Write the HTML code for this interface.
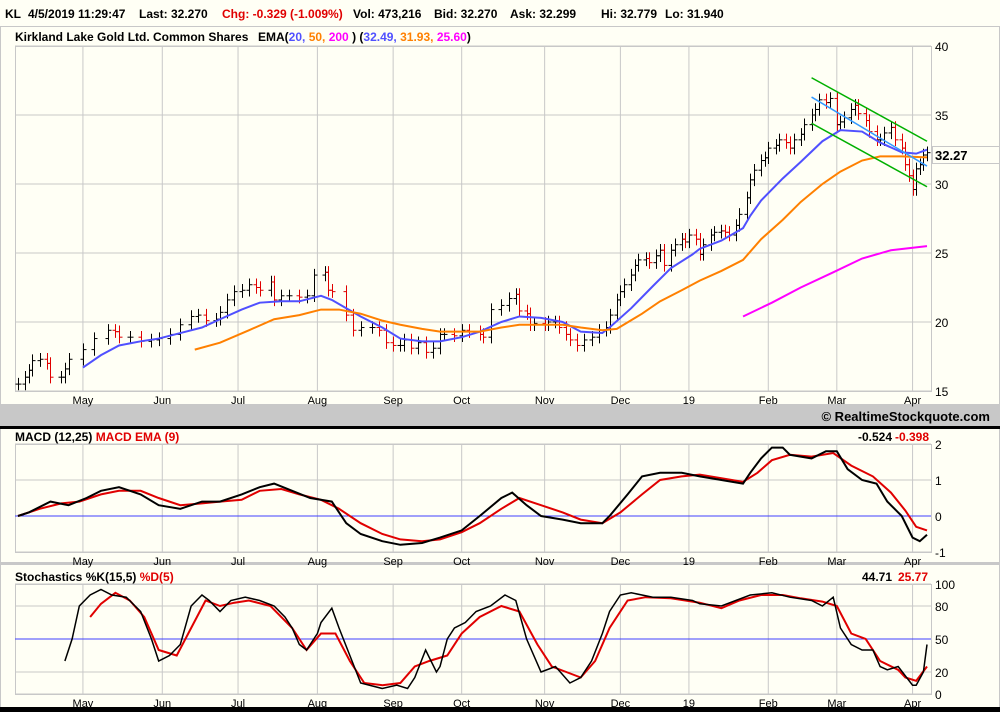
<!DOCTYPE html>
<html><head><meta charset="utf-8"><style>
html,body{margin:0;padding:0;background:#fffff5;}
body{width:1000px;height:712px;overflow:hidden;position:relative;font-family:"Liberation Sans",sans-serif;}
svg{position:absolute;left:0;top:0;}
text{font-family:"Liberation Sans",sans-serif;}
</style></head><body>
<svg id="c" width="1000" height="712"></svg>
<script>
// ---- data ----
const closeDays=[0,2,3,4,6,8,9,12,13,14,18,21,25,27,28,31,34,37,39,42,45,48,50,52,55,56,58,60,62,64,66,67,70,71,73,75,78,80,82,85,86,87,91,93,95,98,100,102,104,106,107,109,111,113,115,117,118,121,123,125,128,129,131,134,136,138,139,141,142,143,146,147,149,150,152,153,155,157,159,161,163,164,166,167,168,170,171,172,174,175,177,178,179,181,182,184,185,186,188,189,190,192,193,195,196,197,199,200,202,203,204,206,207,208,210,211,213,214,215,217,218,220,221,222,224,225,227,228,229,231,232,233,235,236,238,239,240,242,243,245,246,247,248,249,250,251,252];
const closes=[15.5,16.0,16.5,17.2,17.3,17.0,16.0,16.0,16.6,17.3,18.0,18.8,19.4,19.3,18.9,18.9,18.6,18.7,18.8,19.1,19.8,20.4,20.5,20.1,20.2,20.7,21.6,22.2,22.3,22.7,22.5,22.3,22.9,21.6,21.9,21.9,21.8,21.9,23.4,23.6,22.3,22.2,20.5,19.4,19.6,19.6,19.4,18.5,18.3,18.3,18.7,18.1,18.5,17.8,18.1,19.1,19.1,19.0,19.4,19.3,19.1,18.9,20.9,21.2,21.7,22.0,20.8,20.6,19.8,19.9,19.8,20.0,20.0,19.6,19.1,18.7,18.3,18.7,18.9,19.4,19.6,20.5,21.6,22.2,22.7,23.4,24.1,24.5,24.6,24.3,24.8,25.2,24.1,25.2,25.6,26.0,25.8,26.3,26.0,24.9,25.6,26.3,26.5,26.6,26.5,26.3,27.0,27.8,29.0,30.3,31.0,31.7,31.9,32.6,32.8,33.2,33.0,32.6,33.2,33.6,34.3,35.0,35.4,36.1,35.9,36.2,34.3,34.5,34.8,35.4,35.7,35.1,34.6,33.8,33.2,33.2,33.7,34.1,33.2,32.6,31.4,30.6,29.6,31.1,31.4,32.1,32.27];
const ema20Days=[18,23,28,34,39,45,51,56,62,67,73,78,84,87,91,95,101,106,112,117,123,128,134,139,145,151,156,162,164,170,176,181,187,189,195,201,203,206,212,217,223,228,234,239,245,249,252];
const ema20Vals=[16.7,17.6,18.3,18.6,18.8,19.2,19.6,20.2,20.9,21.4,21.5,21.5,21.9,21.6,21.0,20.4,19.6,18.8,18.6,18.6,18.9,19.3,20.0,20.4,20.3,20.0,19.3,19.2,19.6,21.0,22.6,23.9,24.9,25.3,25.9,26.8,27.7,28.8,30.4,31.6,33.1,33.9,33.8,33.0,32.3,32.2,32.49];
const ema50Days=[49,56,64,71,78,84,89,95,101,106,112,117,123,128,134,139,145,151,156,162,166,173,178,184,189,195,201,206,212,217,223,228,234,239,245,252];
const ema50Vals=[18.0,18.5,19.4,20.2,20.5,20.9,20.9,20.6,20.1,19.8,19.5,19.3,19.3,19.3,19.6,19.8,19.8,19.8,19.6,19.4,19.5,20.6,21.5,22.3,23.0,23.7,24.5,26.0,27.4,28.7,30.0,30.9,31.7,32.0,32.0,31.93];
const ema200Days=[201,209,217,226,234,242,252];
const ema200Vals=[20.4,21.4,22.5,23.6,24.6,25.2,25.5];
const channelUpper=[37.7,33.1], channelMid=[36.3,31.3], channelLower=[34.4,29.8];
const channelDays=[220,252];
const macdDays=[0,3,9,14,19,23,28,34,39,45,51,56,62,67,71,76,81,87,91,95,101,106,112,117,123,128,134,137,141,145,151,156,162,164,169,173,178,184,189,195,201,203,206,209,212,214,220,224,227,230,234,238,241,244,245,248,250,252];
const macdVals=[0,0.1,0.4,0.3,0.5,0.7,0.8,0.6,0.3,0.2,0.4,0.4,0.6,0.8,0.9,0.7,0.5,0.4,-0.2,-0.5,-0.7,-0.8,-0.75,-0.6,-0.4,0.0,0.5,0.65,0.3,0.0,-0.1,-0.2,-0.2,0.0,0.6,1.1,1.2,1.2,1.1,1.0,0.9,1.2,1.6,1.9,1.9,1.7,1.6,1.8,1.8,1.3,1.0,0.9,0.4,0.1,0.0,-0.6,-0.7,-0.52];
const sigDays=[0,6,12,17,23,28,34,39,45,51,56,62,67,73,78,84,89,95,101,106,112,117,123,128,134,139,145,151,156,162,167,173,178,184,189,195,201,205,209,214,220,226,231,237,242,246,249,252];
const sigVals=[0,0.2,0.35,0.4,0.6,0.7,0.7,0.5,0.3,0.35,0.4,0.45,0.7,0.75,0.6,0.45,0.2,-0.2,-0.5,-0.65,-0.7,-0.65,-0.45,-0.2,0.2,0.5,0.3,0.1,-0.1,-0.2,0.1,0.6,1.0,1.1,1.15,1.05,0.95,1.2,1.55,1.7,1.65,1.75,1.4,1.1,0.65,0.15,-0.3,-0.4];
const kDays=[13,15,17,20,23,26,30,34,37,39,42,45,48,51,53,56,59,63,67,71,74,76,78,80,83,84,87,89,92,95,101,105,108,110,113,116,117,119,121,124,127,131,135,138,141,145,149,153,156,159,162,164,167,170,176,181,187,189,195,199,203,209,214,220,223,226,228,231,234,237,239,241,244,248,249,251,252];
const kVals=[30,50,80,90,95,90,88,75,50,30,35,45,80,90,85,75,85,88,85,80,70,60,45,40,55,65,78,60,35,10,5,8,5,15,40,20,25,50,60,65,75,80,90,85,50,20,25,10,15,30,55,75,90,92,88,88,85,82,80,85,90,92,88,85,80,88,60,45,40,40,25,22,25,8,8,20,45];
const dDays=[20,23,27,31,35,39,44,48,52,56,60,64,70,76,80,84,88,92,96,101,106,110,114,119,123,128,134,139,144,148,152,156,160,164,169,174,181,189,195,200,206,212,217,223,227,231,235,239,244,246,249,252];
const dVals=[70,82,92,85,70,40,35,60,85,80,83,85,80,60,40,55,55,30,10,8,10,25,30,35,55,70,80,75,45,25,20,15,30,60,85,88,87,83,78,85,90,90,87,84,80,55,50,30,22,15,12,25];
const priceTicks=[40,35,30,25,20,15];
const macdTicks=[2,1,0,-1];
const stochTicks=[100,80,50,20,0];
const months=["May","Jun","Jul","Aug","Sep","Oct","Nov","Dec","19","Feb","Mar","Apr"];
const monthDays=[18,40,61,83,104,123,146,167,186,208,227,248];

// ---- scales ----
const X0=18,X1=927,L=15,R=931;
const xd=d=>X0+d*(X1-X0)/252;
const yP=v=>391-(v-15)*13.8;
const yM=v=>516-v*36;
const yS=v=>694-v*1.1;

const svg=document.getElementById('c');
const NS='http://www.w3.org/2000/svg';
function mk(tag,attrs,parent){const e=document.createElementNS(NS,tag);for(const k in attrs)e.setAttribute(k,attrs[k]);(parent||svg).appendChild(e);return e;}
function txt(s,x,y,opts,parent){const t=mk('text',Object.assign({x:x,y:y,'font-size':12,fill:'#000'},opts),parent);t.textContent=s;return t;}
function poly(days,vals,xs,ys,color,w,name){const p=mk('polyline',{points:days.map((d,i)=>xs(d)+','+ys(vals[i])).join(' '),fill:'none',stroke:color,'stroke-width':w});return p;}

// frames
mk('rect',{x:0,y:0,width:1000,height:712,fill:'#fffff5'});
mk('rect',{x:0.5,y:26.5,width:999,height:378,fill:'none',stroke:'#c8c8c8'});
const band=mk('rect',{x:0,y:405,width:1000,height:21,fill:'#c8c8c8'});

mk('rect',{x:0,y:426,width:1000,height:3,fill:'#000'});
mk('rect',{x:0,y:562,width:1000,height:3,fill:'#c8c8c8'});
mk('rect',{x:0,y:707,width:1000,height:5,fill:'#000'});
mk('line',{x1:999.5,y1:429,x2:999.5,y2:707,stroke:'#c8c8c8'});
mk('line',{x1:0.5,y1:429,x2:0.5,y2:707,stroke:'#c8c8c8'});

// header
const hdr=[["KL",5,'#000'],["4/5/2019 11:29:47",28,'#000'],["Last: 32.270",139,'#000'],["Chg: -0.329 (-1.009%)",222,'#e00000'],["Vol: 473,216",353,'#000'],["Bid: 32.270",434,'#000'],["Ask: 32.299",510,'#000'],["Hi: 32.779",601,'#000'],["Lo: 31.940",665,'#000']];
hdr.forEach(h=>{const t=txt(h[0],h[1],18,{'font-weight':'bold',fill:h[2]});});
const title=txt('Kirkland Lake Gold Ltd. Common Shares',15,41,{'font-weight':'bold'});

const leg=mk('text',{x:258,y:41,'font-size':12,'font-weight':'bold'});

[["EMA(",'#000'],["20, ",'#5050ff'],["50, ",'#ff8000'],["200",'#ff00ff'],[" )   (",'#000'],["32.49, ",'#5050ff'],["31.93, ",'#ff8000'],["25.60",'#ff00ff'],[")",'#000']].forEach(s=>{const ts=mk('tspan',{fill:s[1]},leg);ts.textContent=s[0];});

// grids
function grid(ticks,ys,top,bot,name){
  mk('rect',{x:L+0.5,y:top+0.5,width:R-L,height:bot-top,fill:'none',stroke:'#c8c8c8'});
  ticks.forEach(t=>{const y=ys(t);mk('line',{x1:L,x2:R,y1:y,y2:y,stroke:'#c8c8c8'});const lab=txt(String(t),935,y+5,{'font-size':12});});
  monthDays.forEach((d,i)=>{const x=xd(d);mk('line',{x1:x,x2:x,y1:top,y2:bot,stroke:'#c8c8c8'});const lab=txt(months[i],x,bot+13,{'font-size':11,'text-anchor':'middle'});});
}
grid(priceTicks,yP,46,391,'price-axis');
grid(macdTicks,yM,444,552,'macd-axis');
grid(stochTicks,yS,584,694,'stoch-axis');

// price bars
closes.forEach((c,i)=>{
  const o=i?closes[i-1]:c; const hi=Math.max(o,c)+0.45, lo=Math.min(o,c)-0.45;
  const col=c<o?'#e00000':'#000'; const x=Math.round(xd(closeDays[i]))+0.5;
  const g=mk('g',{stroke:col,'stroke-width':1});
  
  
  mk('line',{x1:x,x2:x,y1:yP(hi),y2:yP(lo)},g);
  mk('line',{x1:x-3,x2:x,y1:yP(o),y2:yP(o)},g);
  mk('line',{x1:x,x2:x+3,y1:yP(c),y2:yP(c)},g);
});
poly(ema20Days,ema20Vals,xd,yP,'#5050ff',2,'ema-20-line');
poly(ema50Days,ema50Vals,xd,yP,'#ff8000',2,'ema-50-line');
poly(ema200Days,ema200Vals,xd,yP,'#ff00ff',2,'ema-200-line');
poly(channelDays,channelUpper,xd,yP,'#00b000',1.5,'channel-upper-line');
poly(channelDays,channelMid,xd,yP,'#3399ff',1.5,'channel-mid-line');
poly(channelDays,channelLower,xd,yP,'#00b000',1.5,'channel-lower-line');
const pbox=mk('rect',{x:932.5,y:146.5,width:67,height:17,fill:'#fffff5',stroke:'#c8c8c8'});

txt('32.27',935,160,{'font-weight':'bold','font-size':13});
const cp=txt('© RealtimeStockquote.com',990,421,{'font-weight':'bold','font-size':13,'text-anchor':'end'});


// MACD
const mt=mk('text',{x:15,y:441,'font-size':12,'font-weight':'bold'});

[["MACD (12,25)  ",'#000'],["MACD EMA (9)",'#e00000']].forEach(s=>{const ts=mk('tspan',{fill:s[1]},mt);ts.textContent=s[0];});
txt('-0.524',858,441,{'font-weight':'bold'});txt('-0.398',895,441,{'font-weight':'bold',fill:'#e00000'});
mk('line',{x1:L,x2:R,y1:yM(0),y2:yM(0),stroke:'#4040ff'});
poly(sigDays,sigVals,xd,yM,'#e00000',2,'macd-signal-line');
poly(macdDays,macdVals,xd,yM,'#000',2,'macd-line');

// Stochastics
const st=mk('text',{x:15,y:581,'font-size':12,'font-weight':'bold'});

[["Stochastics %K(15,5) ",'#000'],["%D(5)",'#e00000']].forEach(s=>{const ts=mk('tspan',{fill:s[1]},st);ts.textContent=s[0];});
txt('44.71',862,581,{'font-weight':'bold'});txt('25.77',898,581,{'font-weight':'bold',fill:'#e00000'});
mk('line',{x1:L,x2:R,y1:yS(50),y2:yS(50),stroke:'#4040ff'});
poly(dDays,dVals,xd,yS,'#e00000',2,'stoch-d-line');
poly(kDays,kVals,xd,yS,'#000',1.5,'stoch-k-line');
</script>
</body></html>
